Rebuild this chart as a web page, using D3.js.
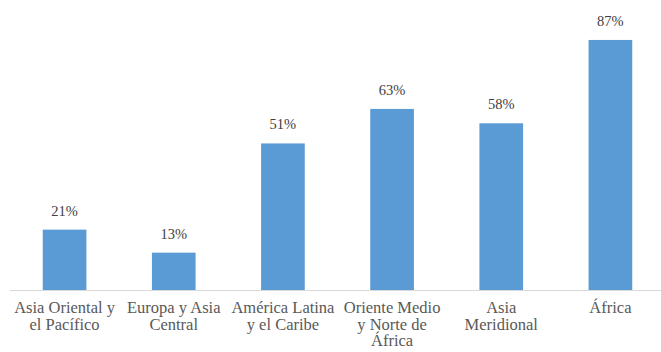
<!DOCTYPE html>
<html>
<head>
<meta charset="utf-8">
<script src="https://cdn.jsdelivr.net/npm/d3@7"></script>
<style>
  body { margin: 0; background: #fff; }
  svg { display: block; }
</style>
</head>
<body>
<svg id="chart" width="661" height="352"></svg>
<script>
// categories, each one a list of label lines
const regions = [
  ["Asia Oriental y", "el Pacífico"],
  ["Europa y Asia", "Central"],
  ["América Latina", "y el Caribe"],
  ["Oriente Medio", "y Norte de", "África"],
  ["Asia", "Meridional"],
  ["África"]
];
const shares = [21, 13, 51, 63, 58, 87];

const svg = d3.select("#chart");
const baseY = 290;

var x = d3
  .scaleBand()
  .domain(d3.range(regions.length))
  .range([10, 665])
  .paddingInner(0.6)
  .paddingOuter(0.3);

var y = d3.scaleLinear().domain([0, 100]).range([baseY, 2.6]);

// bars
svg
  .append("g")
  .selectAll("rect")
  .data(shares)
  .join("rect")
  .attr("x", (d, i) => x(i))
  .attr("y", (d) => y(d))
  .attr("width", x.bandwidth())
  .attr("height", (d) => baseY - y(d))
  .attr("fill", "#5b9bd5");

// baseline
svg
  .append("line")
  .attr("x1", 10)
  .attr("x2", 661)
  .attr("y1", baseY + 0.5)
  .attr("y2", baseY + 0.5)
  .attr("stroke", "#d9d9d9")
  .attr("stroke-width", 1);

// value labels
svg
  .append("g")
  .selectAll("text")
  .data(shares)
  .join("text")
  .attr("x", (d, i) => x(i) + x.bandwidth() / 2)
  .attr("y", (d) => y(d) - 14)
  .attr("text-anchor", "middle")
  .attr("font-family", "Liberation Serif")
  .attr("font-size", 14.5)
  .attr("fill", "#404040")
  .text((d) => d + "%");

// category labels
const cats = svg
  .append("g")
  .selectAll("text")
  .data(regions)
  .join("text")
  .attr("x", (d, i) => x(i) + x.bandwidth() / 2)
  .attr("y", 313)
  .attr("text-anchor", "middle")
  .attr("font-family", "Liberation Serif")
  .attr("font-size", 16.5)
  .attr("fill", "#595959");

cats
  .selectAll("tspan")
  .data((d) => d)
  .join("tspan")
  .attr("x", function () {
    return d3.select(this.parentNode).attr("x");
  })
  .attr("dy", (d, i) => (i === 0 ? 0 : 16.5))
  .text((d) => d);
</script>
</body>
</html>
